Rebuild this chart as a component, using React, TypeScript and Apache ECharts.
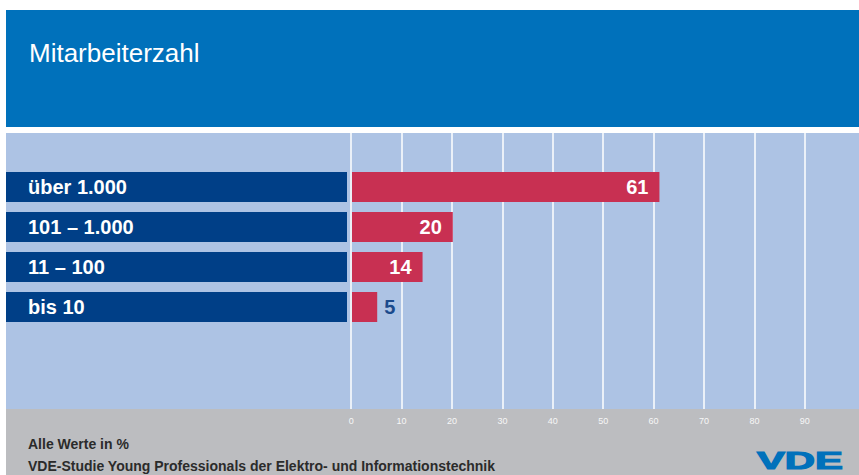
import React, { useEffect, useRef } from "react";
import * as echarts from "echarts";

const titleText = "Mitarbeiterzahl";
const categories = ["über 1.000", "101 – 1.000", "11 – 100", "bis 10"];
const values = [61, 20, 14, 5];
const insideLabel = [true, true, true, false];
const axisTicks = [0, 10, 20, 30, 40, 50, 60, 70, 80, 90];
const footerLines = ["Alle Werte in %", "VDE-Studie Young Professionals der Elektro- und Informationstechnik"];
const logoText = "VDE";

const FONT = "'Liberation Sans', Arial, Helvetica, sans-serif";

export default function App() {
  const ref = useRef<HTMLDivElement>(null);
  useEffect(() => {
    document.body.style.margin = "0";
    const chart = echarts.init(ref.current!, null, { renderer: "svg" });
    const option: any = {
      animation: false,
      backgroundColor: "#ffffff",
      title: {
        text: titleText,
        left: 24,
        top: 35,
        textStyle: { color: "#ffffff", fontFamily: FONT, fontWeight: "normal", fontSize: 26 },
      },
      graphic: [
        { type: "rect", z: -10, shape: { x: 6, y: 10, width: 853, height: 117 }, style: { fill: "#0071bb" } },
        { type: "rect", z: -10, shape: { x: 6, y: 133, width: 853, height: 276 }, style: { fill: "#adc3e4" } },
        { type: "rect", z: -10, shape: { x: 6, y: 409, width: 853, height: 66 }, style: { fill: "#bcbdc0" } },
        {
          type: "text", z: 5, x: 28, y: 451,
          style: { text: footerLines[0], fill: "#2b2b2b", font: `bold 14px ${FONT}`, textVerticalAlign: "bottom" },
        },
        {
          type: "text", z: 5, x: 28, y: 473,
          style: { text: footerLines[1], fill: "#2b2b2b", font: `bold 14px ${FONT}`, textVerticalAlign: "bottom" },
        },
        {
          type: "text", z: 5, x: 757, y: 473, scaleX: 1.74, scaleY: 1,
          style: {
            text: logoText, fill: "#0071bb", stroke: "#0071bb", lineWidth: 1.2,
            font: `900 24px ${FONT}`, textVerticalAlign: "bottom",
          },
        },
      ],
      grid: [
        { left: 351.2, top: 133, width: 504, height: 276, containLabel: false },
        { left: 352, top: 167, width: 504, height: 160, containLabel: false },
      ],
      xAxis: [
        {
          gridIndex: 0, type: "value", min: 0, max: 100, interval: 10,
          axisLine: { show: false }, axisTick: { show: false },
          splitLine: { show: true, showMaxLine: false, lineStyle: { color: "#ffffff", width: 1.5 } },
          axisLabel: {
            show: true, color: "#f7f7f7", fontSize: 9, fontFamily: FONT, margin: 7,
            formatter: (v: number) => (axisTicks.includes(v) ? String(v) : ""),
          },
        },
        {
          gridIndex: 1, type: "value", min: 0, max: 100, show: false,
          splitLine: { show: false },
        },
      ],
      yAxis: [
        { gridIndex: 0, type: "value", show: false, splitLine: { show: false } },
        {
          gridIndex: 1, type: "category", data: categories, inverse: true,
          axisLine: { show: false }, axisTick: { show: false }, splitLine: { show: false },
          axisLabel: {
            align: "left", margin: 346, color: "#ffffff", fontFamily: FONT, fontWeight: "bold", fontSize: 20,
            backgroundColor: "#003f87", width: 319, height: 30, lineHeight: 30, padding: [0, 0, 0, 22],
          },
        },
      ],
      series: [
        {
          type: "bar", xAxisIndex: 1, yAxisIndex: 1, barWidth: 30,
          itemStyle: { color: "#c83052" },
          data: values.map((v, i) => ({
            value: v,
            label: insideLabel[i]
              ? { show: true, position: "insideRight", distance: 11, color: "#ffffff", fontFamily: FONT, fontWeight: "bold", fontSize: 20 }
              : { show: true, position: "right", distance: 7, color: "#1b4a8c", fontFamily: FONT, fontWeight: "bold", fontSize: 20 },
          })),
        },
      ],
    };
    chart.setOption(option);
    return () => chart.dispose();
  }, []);
  return <div ref={ref} style={{ width: 859, height: 475 }} />;
}
